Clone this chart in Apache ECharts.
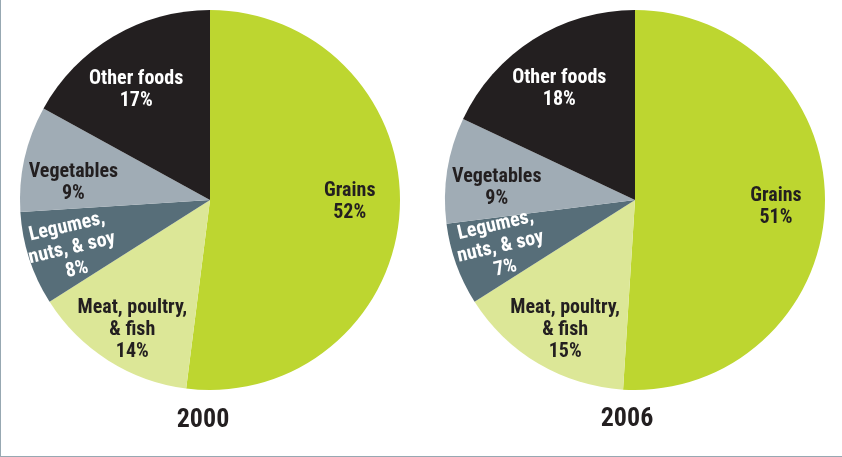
<!DOCTYPE html>
<html>
<head>
<meta charset="utf-8">
<title>Food shares 2000 and 2006</title>
<script src="https://cdn.jsdelivr.net/npm/echarts@6/dist/echarts.min.js"></script>
<style>
  html, body { margin: 0; padding: 0; background: #ffffff; }
  #chart {
    width: 842px; height: 457px; box-sizing: border-box;
    border-left: 1px solid #97a8b2; border-bottom: 1px solid #97a8b2;
  }
</style>
</head>
<body>
<div id="chart"></div>
<script>
// Food groups, clockwise from 12 o'clock
const categories = ['Grains', 'Meat, poultry,\n& fish', 'Legumes,\nnuts, & soy', 'Vegetables', 'Other foods'];
const share2000 = [52, 14, 8, 9, 17];
const share2006 = [51, 15, 7, 9, 18];
const years = ['2000', '2006'];

const sliceColors = ['#bdd630', '#dce797', '#576e79', '#a0acb5', '#231f20'];
const labelColors = ['#231f20', '#231f20', '#ffffff', '#231f20', '#ffffff'];
// small per-slice label adjustments (px) after the radial push
const labelNudgeLeft = [[-5, -7], [0, 8], [-3, -7], [5, 15], [0, 15]];
const labelNudgeRight = [[-4, 2], [4, 5], [0, -12], [5, 11], [2, 11]];
const FONT = "'Liberation Sans Narrow', 'Arial Narrow', 'Roboto Condensed', 'Liberation Sans', sans-serif";

const chart = echarts.init(document.getElementById('chart'), null, { renderer: 'canvas' });

// Push each inside label further out along its radius (toward ~3/4 of the radius)
function pushOut(cx, cy, factor, nudge) {
  return function (p) {
    const r = p.labelRect;
    const lx = r.x + r.width / 2, ly = r.y + r.height / 2;
    const n = nudge[p.dataIndex] || [0, 0];
    return { dx: (lx - cx) * factor + n[0], dy: (ly - cy) * factor + n[1] };
  };
}

function makePie(values, center, radius, nudge) {
  return {
    type: 'pie',
    center: center,
    radius: radius,
    startAngle: 90,
    clockwise: true,
    silent: true,
    animation: false,
    itemStyle: { borderWidth: 0 },
    label: {
      show: true,
      position: 'inside',
      formatter: '{b}\n{c}%',
      fontFamily: FONT,
      fontWeight: 'bold',
      fontSize: 20,
      lineHeight: 22,
      align: 'center'
    },
    labelLine: { show: false },
    labelLayout: pushOut(center[0], center[1], 0.48, nudge),
    data: values.map((v, i) => ({
      name: categories[i],
      value: v,
      itemStyle: { color: sliceColors[i] },
      label: i === 2
        ? { color: labelColors[i], rotate: 13 }
        : { color: labelColors[i] }
    }))
  };
}

chart.setOption({
  backgroundColor: '#ffffff',
  series: [
    makePie(share2000, [209, 200], 190, labelNudgeLeft),
    makePie(share2006, [634, 200], 190, labelNudgeRight)
  ],
  graphic: [
    { type: 'text', x: 202, y: 420, silent: true,
      style: { text: years[0], fill: '#231f20', font: "bold 26px " + FONT, textAlign: 'center', textVerticalAlign: 'middle' } },
    { type: 'text', x: 626, y: 419, silent: true,
      style: { text: years[1], fill: '#231f20', font: "bold 26px " + FONT, textAlign: 'center', textVerticalAlign: 'middle' } }
  ]
});
</script>
</body>
</html>
